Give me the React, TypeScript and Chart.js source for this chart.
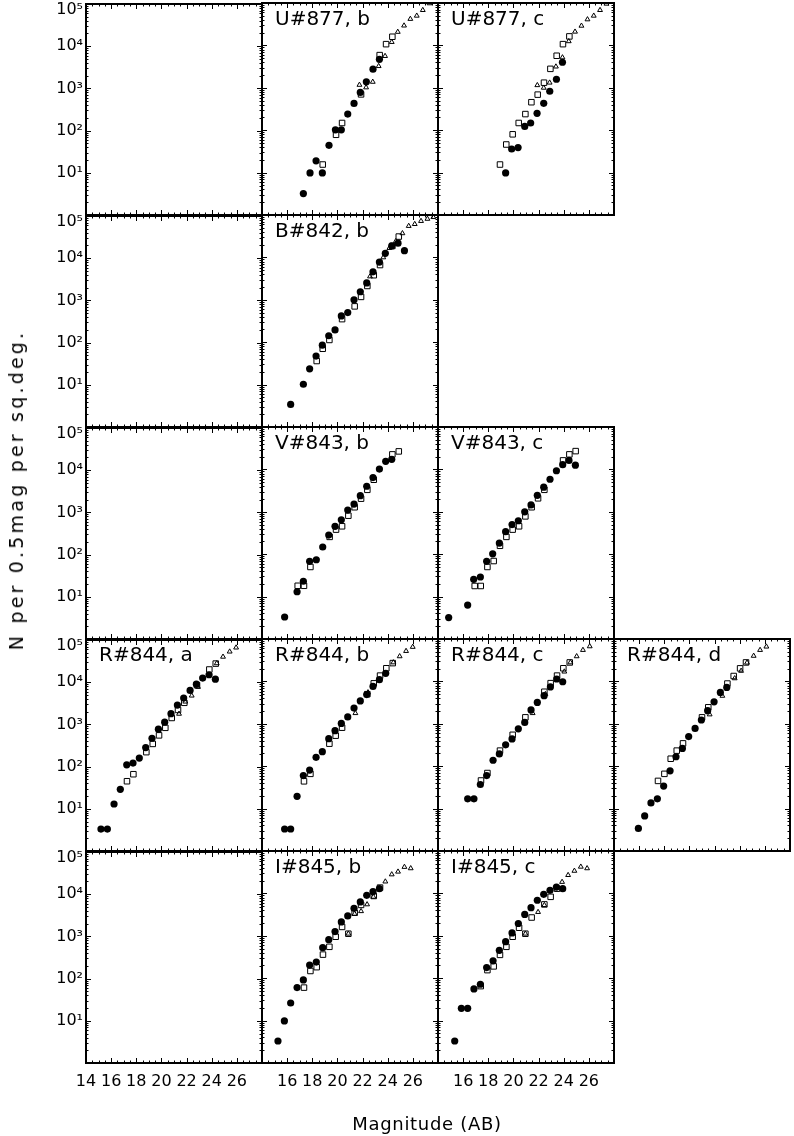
import React, { useEffect, useRef } from 'react';
import { Chart, registerables } from 'chart.js';

Chart.register(...registerables);

type Pt = [number, number];

// ---- axis definitions ----
const X_MIN = 14;
const X_MAX = 28;
const X_MAJOR = 2;
const X_MINOR = 0.5;
const Y_MIN = 1;
const Y_MAX = 1e5;
const X_LABELS_FIRST_COL = [14, 16, 18, 20, 22, 24, 26];
const X_LABELS_OTHER_COL = [16, 18, 20, 22, 24, 26];
const Y_LABEL_DECADES = [1, 2, 3, 4, 5];
const SUPERSCRIPT = ['⁰', '¹', '²', '³', '⁴', '⁵'];

const X_TITLE = 'Magnitude (AB)';
const Y_TITLE = 'N per 0.5mag per sq.deg.';

// ---- data: [magnitude, N per 0.5mag per sq.deg.] ----
const U877_B_FILLED: Pt[] = [[17.29, 3.2], [17.82, 9.8], [18.30, 19], [18.80, 9.8], [19.33, 44], [19.84, 102], [20.31, 102], [20.82, 240], [21.32, 427], [21.82, 780], [22.30, 1380], [22.83, 2750], [23.34, 4700]];
const U877_B_OPEN: Pt[] = [[18.83, 15.5], [19.89, 78], [20.37, 148], [21.88, 700], [23.36, 5900], [23.87, 10700], [24.37, 16000]];
const U877_B_TRI: Pt[] = [[21.75, 1170], [22.28, 1020], [22.81, 1380], [23.28, 3240], [23.79, 5600], [24.32, 12000], [24.80, 20800], [25.30, 29300], [25.80, 42000], [26.31, 50000], [26.79, 68000], [27.33, 98000]];

const U877_C_FILLED: Pt[] = [[19.38, 9.8], [19.86, 36], [20.37, 39], [20.90, 123], [21.37, 148], [21.88, 250], [22.41, 430], [22.89, 830], [23.42, 1590], [23.90, 4000]];
const U877_C_OPEN: Pt[] = [[18.93, 15.5], [19.43, 46], [19.94, 80], [20.42, 148], [20.95, 240], [21.43, 457], [21.93, 690], [22.43, 1320], [22.94, 2800], [23.44, 5700], [23.94, 10700], [24.45, 16300]];
const U877_C_TRI: Pt[] = [[21.90, 1150], [22.41, 1000], [22.88, 1320], [23.38, 3160], [23.90, 5200], [24.40, 12500], [24.90, 21000], [25.41, 29000], [25.89, 41000], [26.39, 50000], [26.89, 68000], [27.40, 96000]];

const B842_B_FILLED: Pt[] = [[16.28, 3.4], [17.29, 10.2], [17.79, 23.5], [18.30, 47], [18.80, 85], [19.31, 142], [19.81, 195], [20.31, 417], [20.82, 500], [21.32, 1000], [21.82, 1550], [22.33, 2500], [22.83, 4560], [23.34, 7770], [23.81, 12500], [24.32, 18600], [24.82, 21600], [25.33, 14400]];
const B842_B_OPEN: Pt[] = [[18.35, 36], [18.83, 70], [19.36, 113], [20.37, 350], [21.37, 700], [21.88, 1170], [22.38, 2120], [22.89, 3800], [23.39, 6600], [24.37, 18600], [24.88, 31000]];
const B842_B_TRI: Pt[] = [[22.59, 3550], [23.65, 10000], [24.13, 16600], [24.64, 24000], [25.17, 37000], [25.67, 55000], [26.15, 61000], [26.65, 72000], [27.16, 81000], [27.63, 89000]];

const V843_B_FILLED: Pt[] = [[15.80, 3.3], [16.79, 13], [17.29, 23], [17.79, 68], [18.32, 74], [18.83, 148], [19.31, 283], [19.81, 455], [20.31, 650], [20.82, 1100], [21.32, 1520], [21.82, 2400], [22.33, 4000], [22.83, 6400], [23.34, 10200], [23.84, 15500], [24.32, 17300]];
const V843_B_OPEN: Pt[] = [[16.84, 18], [17.34, 18], [17.85, 50], [19.38, 256], [19.89, 380], [20.37, 455], [20.87, 810], [21.37, 1280], [21.88, 2040], [22.38, 3300], [22.89, 5700], [24.37, 22600], [24.88, 26600]];

const V843_C_FILLED: Pt[] = [[14.85, 3.2], [16.36, 6.3], [16.84, 25.5], [17.37, 29], [17.87, 68], [18.35, 102], [18.88, 183], [19.38, 340], [19.89, 500], [20.39, 615], [20.90, 1000], [21.40, 1450], [21.90, 2450], [22.41, 3800], [22.91, 5850], [23.42, 9300], [23.92, 12900], [24.42, 16300], [24.93, 12600]];
const V843_C_OPEN: Pt[] = [[16.92, 17.8], [17.40, 17.8], [17.93, 50], [18.43, 69], [18.93, 158], [19.44, 256], [19.94, 380], [20.45, 455], [20.95, 780], [21.45, 1280], [21.96, 2080], [22.46, 3300], [23.95, 16300], [24.45, 22600], [24.95, 27000]];

const R844_A_FILLED: Pt[] = [[15.19, 3.3], [15.70, 3.3], [16.23, 13], [16.73, 29], [17.24, 110], [17.74, 121], [18.24, 159], [18.75, 283], [19.25, 470], [19.76, 770], [20.26, 1130], [20.76, 1800], [21.27, 2870], [21.77, 4200], [22.28, 6400], [22.78, 9000], [23.28, 12500], [23.79, 15000], [24.29, 11800]];
const R844_A_OPEN: Pt[] = [[17.26, 45], [17.77, 66], [18.80, 220], [19.31, 345], [19.81, 550], [20.31, 830], [20.82, 1420], [21.32, 2200], [21.82, 3250], [22.83, 8500], [23.81, 20000], [24.32, 27600]];
const R844_A_TRI: Pt[] = [[21.40, 1780], [21.90, 3460], [22.41, 4800], [22.91, 7700], [24.40, 28000], [24.90, 40000], [25.43, 53000], [25.94, 66000]];

const R844_B_FILLED: Pt[] = [[15.80, 3.3], [16.28, 3.3], [16.79, 19.5], [17.29, 60], [17.79, 81], [18.30, 162], [18.80, 220], [19.31, 447], [19.81, 690], [20.31, 1020], [20.82, 1450], [21.32, 2350], [21.82, 3460], [22.33, 4900], [22.83, 7600], [23.34, 11000], [23.84, 15500]];
const R844_B_OPEN: Pt[] = [[17.34, 44], [17.85, 66], [19.36, 340], [19.86, 525], [20.37, 810], [22.38, 5000], [22.89, 9000], [23.39, 13700], [23.89, 20400], [24.40, 27000]];
const R844_B_TRI: Pt[] = [[21.43, 1780], [22.43, 5500], [24.45, 28000], [24.95, 39000], [25.46, 52000], [25.99, 65000]];

const R844_C_FILLED: Pt[] = [[16.36, 17], [16.86, 17], [17.37, 37], [17.87, 60], [18.38, 138], [18.88, 195], [19.38, 320], [19.89, 440], [20.39, 760], [20.90, 1080], [21.40, 2120], [21.90, 3200], [22.44, 4600], [22.94, 7400], [23.44, 11400], [23.92, 9800]];
const R844_C_OPEN: Pt[] = [[17.42, 46], [17.93, 69], [18.93, 233], [19.94, 550], [20.95, 1420], [22.46, 5700], [22.96, 9100], [23.47, 13700], [23.97, 20400], [24.48, 28000]];
const R844_C_TRI: Pt[] = [[21.53, 1780], [22.54, 5000], [24.05, 17000], [24.53, 28000], [25.03, 39000], [25.53, 55000], [26.07, 67000]];

const R844_D_FILLED: Pt[] = [[15.94, 3.4], [16.44, 6.7], [16.94, 13.6], [17.45, 17], [17.95, 34], [18.46, 78], [18.93, 167], [19.44, 263], [19.94, 500], [20.45, 780], [20.95, 1230], [21.45, 2040], [21.96, 3300], [22.46, 5500], [22.97, 7200]];
const R844_D_OPEN: Pt[] = [[17.50, 45], [18.01, 66], [18.51, 150], [18.99, 233], [19.49, 345], [21.00, 1420], [21.50, 2450], [23.02, 8900], [23.52, 13400], [24.03, 20300], [24.50, 28000]];
const R844_D_TRI: Pt[] = [[21.61, 1660], [22.62, 4560], [23.60, 11800], [24.11, 17700], [24.58, 27600], [25.11, 40000], [25.62, 55000], [26.12, 66000]];

const I845_B_FILLED: Pt[] = [[15.27, 3.3], [15.78, 9.8], [16.28, 26], [16.79, 60], [17.29, 91], [17.79, 204], [18.32, 240], [18.83, 525], [19.31, 810], [19.81, 1260], [20.31, 2120], [20.82, 2950], [21.32, 4450], [21.82, 6300], [22.33, 9000], [22.83, 11000], [23.34, 12900]];
const I845_B_OPEN: Pt[] = [[17.34, 60], [17.85, 148], [18.35, 182], [18.85, 360], [19.36, 550], [19.86, 950], [20.37, 1620], [20.87, 1120], [21.37, 3500], [21.88, 5350], [22.89, 8700], [23.39, 13700]];
const I845_B_TRI: Pt[] = [[20.87, 1120], [21.37, 3300], [21.88, 3800], [22.36, 5500], [22.86, 8300], [23.81, 19000], [24.32, 28000], [24.82, 32500], [25.33, 42000], [25.83, 39000]];

const I845_C_FILLED: Pt[] = [[15.33, 3.3], [15.86, 19.5], [16.36, 19.5], [16.86, 56], [17.37, 72], [17.87, 178], [18.38, 257], [18.88, 455], [19.38, 725], [19.89, 1170], [20.39, 1950], [20.90, 3200], [21.40, 4600], [21.90, 6900], [22.41, 9500], [22.91, 11800], [23.42, 14100], [23.92, 12900]];
const I845_C_OPEN: Pt[] = [[17.40, 65], [17.93, 155], [18.43, 190], [18.93, 355], [19.44, 550], [19.94, 950], [20.45, 1550], [20.95, 1120], [21.45, 2700], [22.46, 5500], [22.96, 8300], [23.47, 12900]];
const I845_C_TRI: Pt[] = [[20.95, 1120], [21.96, 3630], [22.46, 5300], [23.87, 18600], [24.35, 27000], [24.85, 34000], [25.36, 42500], [25.86, 39000]];

// ---- panel grid ----
type Panel = { row: number; col: number; label?: string; filled?: Pt[]; open?: Pt[]; tri?: Pt[] };
const PANELS: Panel[] = [
  { row: 0, col: 0 },
  { row: 0, col: 1, label: 'U#877, b', filled: U877_B_FILLED, open: U877_B_OPEN, tri: U877_B_TRI },
  { row: 0, col: 2, label: 'U#877, c', filled: U877_C_FILLED, open: U877_C_OPEN, tri: U877_C_TRI },
  { row: 1, col: 0 },
  { row: 1, col: 1, label: 'B#842, b', filled: B842_B_FILLED, open: B842_B_OPEN, tri: B842_B_TRI },
  { row: 2, col: 0 },
  { row: 2, col: 1, label: 'V#843, b', filled: V843_B_FILLED, open: V843_B_OPEN },
  { row: 2, col: 2, label: 'V#843, c', filled: V843_C_FILLED, open: V843_C_OPEN },
  { row: 3, col: 0, label: 'R#844, a', filled: R844_A_FILLED, open: R844_A_OPEN, tri: R844_A_TRI },
  { row: 3, col: 1, label: 'R#844, b', filled: R844_B_FILLED, open: R844_B_OPEN, tri: R844_B_TRI },
  { row: 3, col: 2, label: 'R#844, c', filled: R844_C_FILLED, open: R844_C_OPEN, tri: R844_C_TRI },
  { row: 3, col: 3, label: 'R#844, d', filled: R844_D_FILLED, open: R844_D_OPEN, tri: R844_D_TRI },
  { row: 4, col: 0 },
  { row: 4, col: 1, label: 'I#845, b', filled: I845_B_FILLED, open: I845_B_OPEN, tri: I845_B_TRI },
  { row: 4, col: 2, label: 'I#845, c', filled: I845_C_FILLED, open: I845_C_OPEN, tri: I845_C_TRI },
];

const COL_LEFT = [86, 262, 438, 614];
const ROW_TOP = [3, 215, 427, 639, 851];
const PANEL_W = 176;
const PANEL_H = 212;
const ML = 70;
const MT = 14;
const MR = 14;
const MB = 40;
const LAST_ROW = 4;

const FONT = "'DejaVu Sans', sans-serif";
const WEIGHT = 400;

const framePlugin = {
  id: 'idlFrame',
  afterDraw(chart: any) {
    const { ctx, chartArea } = chart;
    const { left, top, right, bottom } = chartArea;
    const xs = chart.scales.x;
    const ys = chart.scales.y;
    ctx.save();
    ctx.strokeStyle = '#000';
    ctx.lineWidth = 1;
    ctx.beginPath();
    for (let v = X_MIN; v <= X_MAX + 1e-9; v += X_MINOR) {
      const px = Math.round(xs.getPixelForValue(v)) + 0.5;
      const major = Math.abs(v / X_MAJOR - Math.round(v / X_MAJOR)) < 1e-9;
      const len = major ? 5 : 2.5;
      ctx.moveTo(px, bottom);
      ctx.lineTo(px, bottom - len);
      ctx.moveTo(px, top);
      ctx.lineTo(px, top + len);
    }
    const eMin = Math.round(Math.log10(Y_MIN));
    const eMax = Math.round(Math.log10(Y_MAX));
    for (let e = eMin; e < eMax; e++) {
      for (let k = 1; k <= 9; k++) {
        const py = Math.round(ys.getPixelForValue(k * Math.pow(10, e))) + 0.5;
        const len = k === 1 ? 5 : 2.5;
        ctx.moveTo(left, py);
        ctx.lineTo(left + len, py);
        ctx.moveTo(right, py);
        ctx.lineTo(right - len, py);
      }
    }
    ctx.stroke();
    ctx.lineWidth = 2;
    ctx.strokeRect(left, top, right - left, bottom - top);
    ctx.restore();
  },
};

function toXY(arr?: Pt[]) {
  return (arr || []).map(([x, y]) => ({ x, y }));
}

function PanelChart({ panel }: { panel: Panel }) {
  const ref = useRef<HTMLCanvasElement | null>(null);
  const showX = panel.row === LAST_ROW;
  const showY = panel.col === 0;
  useEffect(() => {
    if (!ref.current) return;
    const xLabels = panel.col === 0 ? X_LABELS_FIRST_COL : X_LABELS_OTHER_COL;
    const chart = new Chart(ref.current, {
      type: 'scatter',
      data: {
        datasets: [
          { data: toXY(panel.filled), pointStyle: 'circle', pointRadius: 3.6, backgroundColor: '#000', borderColor: '#000', borderWidth: 0, order: 0 },
          { data: toXY(panel.open), pointStyle: 'rect', pointRadius: 3.9, backgroundColor: 'rgba(0,0,0,0)', borderColor: '#000', borderWidth: 1, order: 1 },
          { data: toXY(panel.tri), pointStyle: 'triangle', pointRadius: 2.8, backgroundColor: 'rgba(0,0,0,0)', borderColor: '#000', borderWidth: 1, order: 2 },
        ],
      } as any,
      options: {
        animation: false,
        responsive: false,
        devicePixelRatio: 1,
        events: [],
        layout: { padding: { left: 0, top: MT, right: MR, bottom: 0 } },
        plugins: { legend: { display: false }, tooltip: { enabled: false } },
        scales: {
          x: {
            type: 'linear',
            min: X_MIN,
            max: X_MAX,
            afterFit: (s: any) => { s.height = MB; },
            grid: { display: false, drawTicks: false },
            border: { display: false },
            ticks: {
              display: showX,
              stepSize: X_MAJOR,
              autoSkip: false,
              maxRotation: 0,
              padding: 9,
              color: '#000',
              font: { family: FONT, size: 16, weight: WEIGHT },
              callback: (v: any) => (xLabels.includes(Number(v)) ? String(v) : ''),
            },
          },
          y: {
            type: 'logarithmic',
            min: Y_MIN,
            max: Y_MAX,
            afterFit: (s: any) => { s.width = ML; },
            grid: { display: false, drawTicks: false },
            border: { display: false },
            ticks: {
              display: showY,
              autoSkip: false,
              padding: 3,
              color: '#000',
              font: { family: FONT, size: 16, weight: WEIGHT, lineHeight: 0.75 },
              callback: (v: any) => {
                const l = Math.log10(Number(v));
                const e = Math.round(l);
                if (Math.abs(l - e) > 1e-6 || !Y_LABEL_DECADES.includes(e)) return '';
                const txt = '10' + SUPERSCRIPT[e];
                return e === Y_LABEL_DECADES[Y_LABEL_DECADES.length - 1] ? ['', txt] : txt;
              },
            },
          },
        },
      } as any,
      plugins: [framePlugin],
    });
    return () => chart.destroy();
  }, [panel]);

  const w = PANEL_W + ML + MR;
  const h = PANEL_H + MT + MB;
  return (
    <canvas
      ref={ref}
      width={w}
      height={h}
      style={{ position: 'absolute', left: COL_LEFT[panel.col] - ML, top: ROW_TOP[panel.row] - MT, width: w, height: h }}
    />
  );
}

export default function App() {
  return (
    <div style={{ position: 'absolute', left: 0, top: 0, width: 794, height: 1136, background: '#fff', overflow: 'hidden', fontFamily: FONT, fontWeight: WEIGHT, color: '#000' }}>
      {PANELS.map((p, i) => (
        <PanelChart key={i} panel={p} />
      ))}
      {PANELS.filter((p) => p.label).map((p, i) => (
        <div
          key={'l' + i}
          style={{ position: 'absolute', left: COL_LEFT[p.col] + 13, top: ROW_TOP[p.row] + 5, fontSize: 20, lineHeight: '20px', whiteSpace: 'pre' }}
        >
          {p.label}
        </div>
      ))}
      <div style={{ position: 'absolute', left: 427, top: 1123, transform: 'translate(-50%, -50%)', fontSize: 18, letterSpacing: 0.7, whiteSpace: 'nowrap' }}>
        {X_TITLE}
      </div>
      <div style={{ position: 'absolute', left: 16, top: 490, transform: 'translate(-50%, -50%) rotate(-90deg)', fontSize: 19, letterSpacing: 3.2, whiteSpace: 'nowrap' }}>
        {Y_TITLE}
      </div>
    </div>
  );
}
